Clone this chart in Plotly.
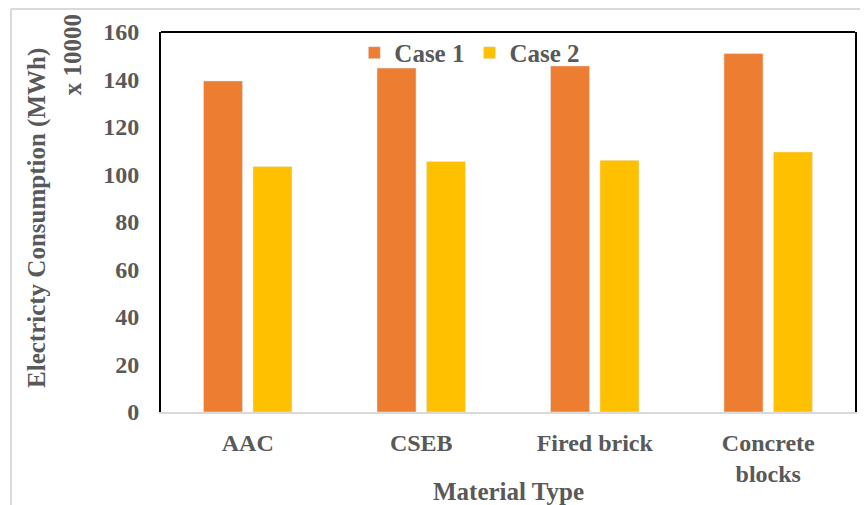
import plotly.graph_objects as go

categories = ["AAC", "CSEB", "Fired brick", "Concrete<br>blocks"]
case1 = [139.4, 144.8, 145.7, 150.9]
case2 = [103.4, 105.5, 106.0, 109.5]
series_names = ["Case 1", "Case 2"]
y_ticks = [0, 20, 40, 60, 80, 100, 120, 140, 160]

FONT = "Liberation Serif, Times New Roman, serif"
GREY = "#595959"

fig = go.Figure()
fig.add_trace(go.Bar(x=categories, y=case1, name=series_names[0], marker_color="#ED7D31"))
fig.add_trace(go.Bar(x=categories, y=case2, name=series_names[1], marker_color="#FFC000"))

fig.update_layout(
    width=860, height=497,
    margin=dict(l=153, r=13, t=24, b=93),
    paper_bgcolor="white", plot_bgcolor="white",
    barmode="group", bargap=0.43, bargroupgap=0.21,
    font=dict(family=FONT, size=22, color=GREY),
    showlegend=True,
    legend=dict(orientation="h", x=0.445, xanchor="center", y=0.945, yanchor="middle",
                bgcolor="rgba(0,0,0,0)", font=dict(family=FONT, size=25, color=GREY, weight="bold"),
                itemwidth=30, traceorder="normal"),
    xaxis=dict(showgrid=False, showline=True, linecolor="#D9D9D9", linewidth=1.5,
               tickfont=dict(family=FONT, size=24, color=GREY, weight="bold"),
               ticks="", ticklabelstandoff=8),
    yaxis=dict(range=[0, 160], tickvals=y_ticks, showgrid=False, zeroline=False,
               showline=True, linecolor="black", linewidth=2, mirror=True,
               tickfont=dict(family=FONT, size=24, color=GREY, weight="bold"),
               ticks="", ticklabelstandoff=15),
)

fig.add_shape(type="line", xref="paper", yref="paper", x0=0, x1=1, y0=1, y1=1,
              line=dict(color="black", width=2))
# outer chart-area border (top and left)
fig.add_shape(type="line", xref="paper", yref="paper", x0=-0.2161, x1=1.02, y0=1.0605, y1=1.0605,
              line=dict(color="#D9D9D9", width=2))
fig.add_shape(type="line", xref="paper", yref="paper", x0=-0.2161, x1=-0.2161, y0=1.0605, y1=-0.25,
              line=dict(color="#D9D9D9", width=2))

fig.add_annotation(text="Electricty Consumption (MWh)", xref="paper", yref="paper",
                   x=-0.1787, y=0.5105, xanchor="center", yanchor="middle", textangle=-90,
                   showarrow=False, font=dict(family=FONT, size=25, color=GREY, weight="bold"))
fig.add_annotation(text="x 10000", xref="paper", yref="paper",
                   x=-0.128, y=0.939, xanchor="center", yanchor="middle", textangle=-90,
                   showarrow=False, font=dict(family=FONT, size=25, color=GREY, weight="bold"))
fig.add_annotation(text="Material Type", xref="paper", yref="paper",
                   x=0.5, y=-0.2105, xanchor="center", yanchor="middle",
                   showarrow=False, font=dict(family=FONT, size=25, color=GREY, weight="bold"))

fig.write_html("out.html")
